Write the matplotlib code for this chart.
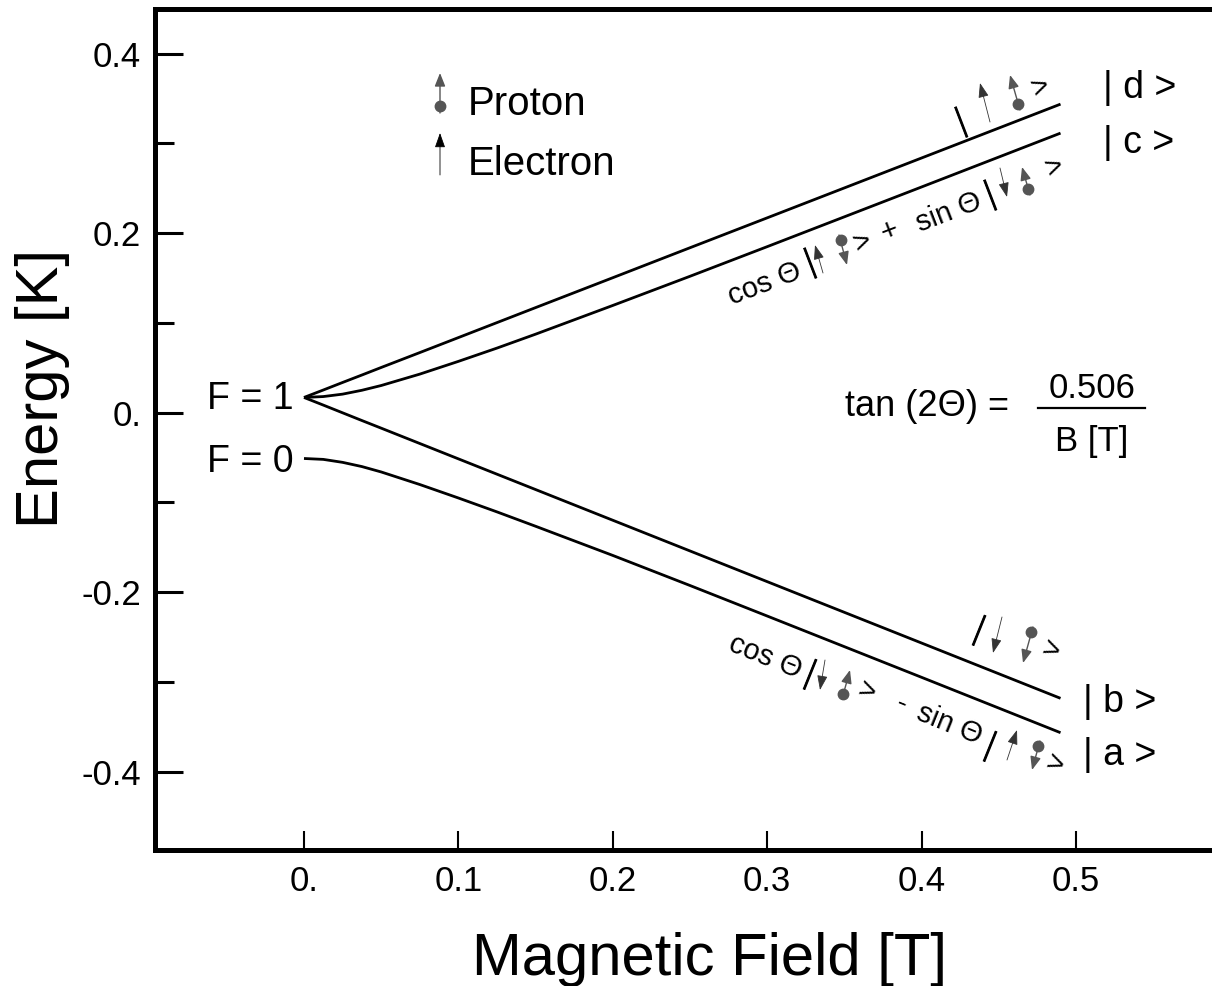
import numpy as np
import matplotlib
matplotlib.use("Agg")
import matplotlib.pyplot as plt

plt.rcParams["font.family"] = ["Liberation Sans", "DejaVu Sans"]

# field values [T] and the four hyperfine levels [K]
field = [0, 0.0125, 0.025, 0.0375, 0.05, 0.075, 0.1, 0.125, 0.15, 0.2, 0.25, 0.3, 0.4, 0.49]
level_d = [0.017, 0.0253, 0.0337, 0.042, 0.0504, 0.067, 0.0837, 0.1004, 0.1171, 0.1504, 0.1838, 0.2171, 0.2838, 0.3438]
level_c = [0.017, 0.018, 0.0207, 0.025, 0.0303, 0.043, 0.0572, 0.072, 0.0875, 0.1195, 0.152, 0.185, 0.2515, 0.3115]
level_b = [0.017, 0.0085, -0.0001, -0.0087, -0.0172, -0.0343, -0.0514, -0.0685, -0.0856, -0.1198, -0.154, -0.1882, -0.2566, -0.3182]
level_a = [-0.051, -0.052, -0.0553, -0.06, -0.066, -0.08, -0.095, -0.1105, -0.1265, -0.159, -0.1925, -0.2265, -0.2948, -0.3565]

x_ticks = [0, 0.1, 0.2, 0.3, 0.4, 0.5]
x_labels = ["0.", "0.1", "0.2", "0.3", "0.4", "0.5"]
y_ticks = [-0.4, -0.2, 0, 0.2, 0.4]
y_labels = ["-0.4", "-0.2", "0.", "0.2", "0.4"]
y_minor = [-0.3, -0.1, 0.1, 0.3]

W, H = 1212, 986
fig = plt.figure(figsize=(W / 100, H / 100), dpi=100)
ax = fig.add_axes([155 / W, 1 - 850 / H, (1220 - 155) / W, (850 - 9) / H])
ax.set_xlim(-0.0965, 0.5933)
ax.set_ylim(-0.4872, 0.4498)

for lev in (level_d, level_c, level_b, level_a):
    ax.plot(field, lev, color="black", lw=2.0, solid_capstyle="butt")

for side in ("left", "top", "bottom"):
    ax.spines[side].set_linewidth(3.6)
ax.spines["right"].set_visible(False)

ax.set_xticks(x_ticks, x_labels)
ax.set_yticks(y_ticks, y_labels)
ax.set_yticks(y_minor, minor=True)
ax.tick_params(axis="y", which="major", direction="in", length=20, width=2.2, labelsize=25, pad=10)
ax.tick_params(axis="y", which="minor", direction="in", length=14, width=2.2)
ax.tick_params(axis="x", which="major", direction="in", length=14, width=1.5, labelsize=25, pad=11)
ax.tick_params(top=False, right=False)

fig.text(58 / W, 1 - 388 / H, "Energy [K]", rotation=90, rotation_mode="anchor",
         ha="center", va="baseline", fontsize=43)
fig.text(709 / W, 1 - 975 / H, "Magnetic Field [T]", ha="center", va="baseline", fontsize=43)


def P(px, py):
    # picture pixel -> data coordinates (for annotations)
    return ax.transData.inverted().transform((px, H - py))


def say(px, py, s, size=21, rot=0, ha="center", va="center"):
    ax.text(*P(px, py), s, fontsize=size, rotation=rot, rotation_mode="anchor",
            ha=ha, va=va, clip_on=False)


def electron(tail, head, color="#333333"):
    ax.annotate("", xy=P(*head), xytext=P(*tail),
                arrowprops=dict(arrowstyle="-|>,head_length=0.45,head_width=0.16",
                                color=color, lw=0.6, shrinkA=0, shrinkB=0,
                                mutation_scale=20))


def proton(dot, head, tail):
    ax.annotate("", xy=P(*head), xytext=P(*tail),
                arrowprops=dict(arrowstyle="-|>,head_length=0.4,head_width=0.16",
                                color="#555555", lw=1.0, shrinkA=0, shrinkB=0,
                                mutation_scale=20))
    ax.plot(*P(*dot), "o", ms=7.5, color="#555555", clip_on=False)


# legend for the spin symbols
proton((440, 106), (440, 73), (440, 113))
say(468, 115, "Proton", size=29, ha="left", va="baseline")
electron((440, 175), (440, 133), color="black")
say(468, 175, "Electron", size=29, ha="left", va="baseline")

# zero field labels
say(207, 409, "F = 1", size=27, ha="left", va="baseline")
say(207, 472, "F = 0", size=27, ha="left", va="baseline")

# state names at the right end
say(1103, 98, "| d >", size=27, ha="left", va="baseline")
say(1103, 153, "| c >", size=27, ha="left", va="baseline")
say(1083, 712, "| b >", size=27, ha="left", va="baseline")
say(1083, 765, "| a >", size=27, ha="left", va="baseline")

# tan(2 theta) formula
say(845, 416, "tan (2Θ) =", size=26, ha="left", va="baseline")
say(1092, 398, "0.506", size=25, va="baseline")
say(1092, 451, "B [T]", size=25, va="baseline")
ax.plot(*zip(P(1038, 408), P(1145, 408)), color="black", lw=1.6, clip_on=False)

# |d> = |up up>
r = 21
say(961, 121, "|", size=25, rot=r)
electron((990, 122), (980, 83))
proton((1018, 104), (1010, 75), (1020, 110))
say(1040, 88, ">", size=21, rot=r)

# |c> = cos|up down> + sin|down up>
say(765, 284, "cos Θ", rot=r)
say(810, 262, "|", size=25, rot=r)
electron((823, 273), (815, 245))
proton((841, 240), (847, 265), (839, 235))
say(862, 243, ">", rot=r)
say(890, 231, "+", rot=r)
say(949, 212, "sin Θ", rot=r)
say(990, 194, "|", size=25, rot=r)
electron((1000, 168), (1007, 197))
proton((1028, 189), (1022, 167), (1030, 195))
say(1054, 168, ">", rot=r)

# |b> = |down down>
r = -22
say(978, 631, "|", size=25, rot=r)
electron((1002, 617), (993, 653))
proton((1031, 632), (1023, 663), (1033, 627))
say(1051, 651, ">", rot=r)

# |a> = cos|down up> - sin|up down>
say(765, 657, "cos Θ", rot=r)
say(809, 675, "|", size=25, rot=r)
electron((825, 660), (820, 690))
proton((843, 694), (850, 670), (842, 699))
say(867, 692, ">", rot=r)
say(902, 704, "-", rot=r)
say(949, 724, "sin Θ", rot=r)
say(989, 747, "|", size=25, rot=r)
electron((1007, 760), (1017, 730))
proton((1038, 746), (1032, 770), (1040, 741))
say(1055, 765, ">", rot=r)

fig.savefig("out.png", dpi=100)
